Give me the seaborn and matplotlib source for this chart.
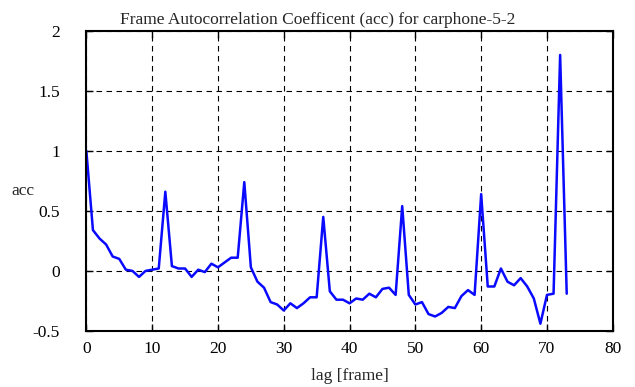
import numpy as np
import pandas as pd
import seaborn as sns
import matplotlib.pyplot as plt

# autocorrelation values, lag 0..73
lags = list(range(0, 74))
acc = [1.0, 0.34, 0.27, 0.22, 0.12, 0.1, 0.01, 0.0, -0.05, 0.0,
       0.01, 0.02, 0.66, 0.04, 0.02, 0.02, -0.05, 0.01, -0.01, 0.06,
       0.03, 0.07, 0.11, 0.11, 0.74, 0.03, -0.09, -0.14, -0.26, -0.28,
       -0.33, -0.27, -0.31, -0.27, -0.22, -0.22, 0.45, -0.17, -0.24, -0.24,
       -0.27, -0.23, -0.24, -0.19, -0.22, -0.15, -0.14, -0.2, 0.54, -0.2,
       -0.28, -0.26, -0.36, -0.38, -0.35, -0.3, -0.31, -0.21, -0.16, -0.2,
       0.64, -0.13, -0.13, 0.02, -0.09, -0.12, -0.06, -0.13, -0.23, -0.44,
       -0.2, -0.19, 1.8, -0.19]

x_ticks = [0, 10, 20, 30, 40, 50, 60, 70, 80]
y_ticks = [-0.5, 0, 0.5, 1, 1.5, 2]
y_labels = ["-0.5", "0", "0.5", "1", "1.5", "2"]

sns.set_style("ticks")
plt.rcParams['font.family'] = ['Liberation Serif', 'DejaVu Serif']
plt.rcParams['font.size'] = 12.5

df = pd.DataFrame({"lag": lags, "acc": acc})

fig = plt.figure(figsize=(6.35, 3.87), dpi=100)
ax = fig.add_axes([0.136, 0.145, 0.829, 0.775])
sns.lineplot(data=df, x="lag", y="acc", color="#0a0aff", linewidth=1.8, ax=ax)

ax.set_xlim(0, 80)
ax.set_ylim(-0.5, 2)
ax.set_xticks(x_ticks)
ax.set_yticks(y_ticks)
ax.set_yticklabels(y_labels)
ax.grid(True, color="black", linestyle=(0, (5, 4)), linewidth=0.8)
ax.tick_params(direction="in", top=True, right=True, length=5, width=1,
               colors="black")
ax.tick_params(axis="x", pad=7)
ax.tick_params(axis="y", pad=19)
for s in ax.spines.values():
    s.set_linewidth(1.5)
    s.set_color("black")

ax.set_xlabel("lag [frame]", labelpad=8)
ax.set_ylabel("acc", rotation=0, va="center")
ax.yaxis.set_label_coords(-0.12, 0.465)
# title is centred on the figure, not the axes
ax.set_title("Frame Autocorrelation Coefficent (acc) for carphone-5-2",
             fontsize=12.5, pad=5, x=0.439)

plt.savefig("out.png", dpi=100)
